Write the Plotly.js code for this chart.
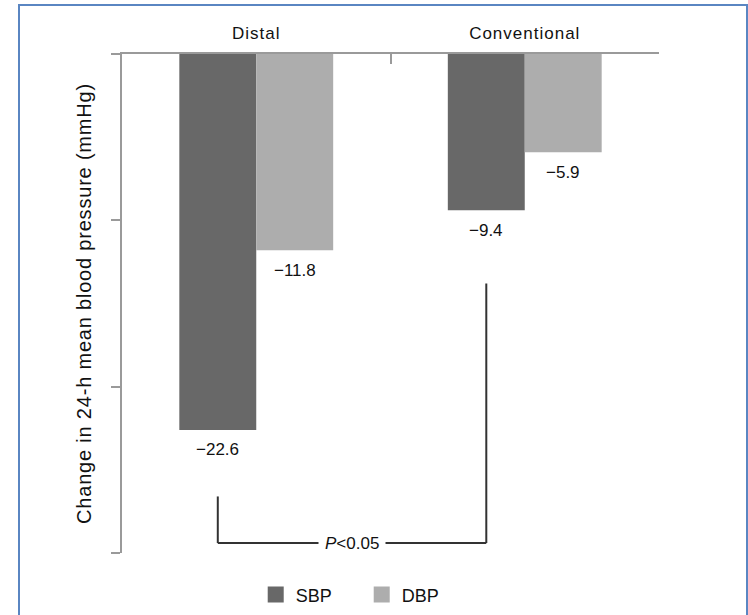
<!DOCTYPE html>
<html>
<head>
<meta charset="utf-8">
<script src="https://cdn.plot.ly/plotly-3.0.1.min.js"></script>
<style>
  html, body { margin: 0; padding: 0; background: #fff; }
  #wrap { position: relative; width: 748px; height: 615px; overflow: hidden; }
  #chart { position: absolute; left: 0; top: 0; width: 748px; height: 615px; }
  #frame { position: absolute; left: 18px; top: 4px; width: 726px; height: 640px;
           border: 2px solid #5a86c2; pointer-events: none; box-sizing: content-box; }
</style>
</head>
<body>
<div id="wrap">
  <div id="chart"></div>
  <div id="frame"></div>
</div>
<script>
// ---- data ----
const categories = ['Distal', 'Conventional'];
const seriesNames = ['SBP', 'DBP'];
const sbpValues = [-22.6, -9.4];
const dbpValues = [-11.8, -5.9];
const yTitle = 'Change in 24-h mean blood pressure (mmHg)';
const pText = '<i>P</i><0.05';

// ---- styling ----
const colors = ['#686868', '#adadad'];
const FONT = '"Liberation Sans", Arial, Helvetica, sans-serif';
const bargap = 0.427;
const barW = (1 - bargap) / 2;

function fmt(v) { return (v < 0 ? '\u2212' : '') + Math.abs(v).toFixed(1); }

const series = [sbpValues, dbpValues];
const traces = series.map((vals, s) => ({
  type: 'bar',
  x: categories,
  y: vals,
  name: seriesNames[s],
  marker: { color: colors[s], line: { width: 0 } },
  showlegend: false,
  hoverinfo: 'skip'
}));
// legend proxies (larger square symbols)
seriesNames.forEach((n, s) => traces.push({
  type: 'scatter', mode: 'markers', x: [null], y: [null], name: n,
  marker: { symbol: 'square', size: 16, color: colors[s] },
  showlegend: true, hoverinfo: 'skip'
}));

const annotations = [];
series.forEach((vals, s) => {
  vals.forEach((v, i) => {
    annotations.push({
      xref: 'x', yref: 'y',
      x: i + (s === 0 ? -barW / 2 : barW / 2),
      y: v, yshift: -20, yanchor: 'middle', xanchor: 'center',
      text: fmt(v), showarrow: false,
      font: { family: FONT, size: 17, color: '#111' }
    });
  });
});

// significance bracket between SBP bars
const xL = 0 - barW / 2, xR = 1 - barW / 2;
const bracketBottom = -29.4;
const topL = sbpValues[0] - 4.0;
const topR = sbpValues[1] - 4.4;
const lineStyle = { color: '#333', width: 2 };
const shapes = [
  { type: 'line', xref: 'x', yref: 'y', x0: xL, x1: xL, y0: topL, y1: bracketBottom, line: lineStyle },
  { type: 'line', xref: 'x', yref: 'y', x0: xR, x1: xR, y0: topR, y1: bracketBottom, line: lineStyle },
  { type: 'line', xref: 'x', yref: 'y', x0: xL, x1: xR, y0: bracketBottom, y1: bracketBottom, line: lineStyle }
];
annotations.push({
  xref: 'x', yref: 'y', x: (xL + xR) / 2, y: bracketBottom,
  text: pText, showarrow: false, bgcolor: '#fff', borderpad: 6,
  yanchor: 'middle', font: { family: FONT, size: 17, color: '#111' }
});

const layout = {
  width: 748, height: 615,
  margin: { l: 122, r: 89, t: 54, b: 62, pad: 0, autoexpand: false },
  paper_bgcolor: '#fff', plot_bgcolor: '#fff',
  font: { family: FONT, color: '#111' },
  barmode: 'group', bargap: bargap, bargroupgap: 0,
  showlegend: true,
  legend: {
    orientation: 'h', x: 0.249, xanchor: 'left', y: -0.084, yanchor: 'middle',
    font: { family: FONT, size: 18, color: '#111' },
    entrywidth: 61, entrywidthmode: 'pixels', bgcolor: 'rgba(0,0,0,0)'
  },
  xaxis: {
    type: 'category', side: 'top', automargin: false,
    showline: true, linecolor: '#9a9a9a', linewidth: 2,
    ticks: 'inside', tickson: 'boundaries', ticklen: 10, tickwidth: 2, tickcolor: '#9a9a9a',
    ticklabelstandoff: 6,
    showgrid: false, zeroline: false, fixedrange: true,
    tickfont: { family: FONT, size: 17, color: '#111' }
  },
  yaxis: {
    range: [-30, 0], dtick: 10, tick0: 0, automargin: false,
    showline: true, linecolor: '#9a9a9a', linewidth: 2,
    ticks: 'outside', ticklen: 9, tickwidth: 2, tickcolor: '#9a9a9a',
    showticklabels: false, showgrid: false, zeroline: false, fixedrange: true,
    title: { text: yTitle, standoff: 14, font: { family: FONT, size: 20, color: '#111' } }
  },
  shapes: shapes,
  annotations: annotations
};

Plotly.newPlot('chart', traces, layout, { displayModeBar: false, staticPlot: true }).then(() => {
  document.querySelectorAll('#chart .xtick text').forEach(t => t.style.letterSpacing = '1px');
  const yt = document.querySelector('#chart .ytitle');
  if (yt) yt.style.letterSpacing = '0.8px';
});
</script>
</body>
</html>
